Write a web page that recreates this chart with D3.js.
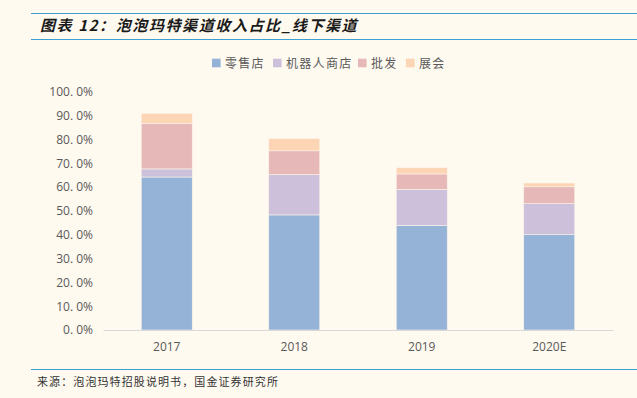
<!DOCTYPE html>
<html>
<head>
<meta charset="utf-8">
<script src="https://cdn.jsdelivr.net/npm/d3@7"></script>
<style>
  html, body { margin: 0; padding: 0; background: #fffaf0; }
  svg { display: block; }
</style>
</head>
<body>
<svg id="chart" width="637" height="398"></svg>
<script>
// data
const years = ["2017", "2018", "2019", "2020E"];
const seriesNames = ["零售店", "机器人商店", "批发", "展会"];
const retail = [64.2, 48.3, 43.9, 40.0];
const robotShop = [3.4, 16.9, 15.1, 13.0];
const wholesale = [19.1, 10.0, 6.5, 7.1];
const fairs = [4.2, 5.1, 2.6, 1.6];
const yTicks = [0, 10, 20, 30, 40, 50, 60, 70, 80, 90, 100];

const colors = ["#95b3d7", "#ccc0da", "#e6b9b8", "#fcd5b5"];
const cjk = "'Noto Sans CJK SC', 'Noto Sans', sans-serif";

const svg = d3.select("#chart");
const width = 637, height = 398;

svg.append("rect").attr("width", width).attr("height", height).attr("fill", "#fffaf0");

// frame lines + title
[13.5, 39.5, 369.5].forEach(yy => {
    svg.append("line").attr("x1", 31).attr("x2", width).attr("y1", yy).attr("y2", yy)
        .attr("stroke", "#3d9fd3").attr("stroke-width", 1.2);
});

svg.append("text")
    .attr("x", 40).attr("y", 31)
    .attr("font-family", cjk).attr("font-size", 15).attr("font-weight", "bold")
    .attr("font-style", "italic").attr("fill", "#1a1a1a")
    .attr("letter-spacing", 1.6)
    .text("图表 12：泡泡玛特渠道收入占比_线下渠道");

svg.append("text")
    .attr("x", 37).attr("y", 386)
    .attr("font-family", cjk).attr("font-size", 11).attr("fill", "#333")
    .attr("letter-spacing", 1.1)
    .text("来源：泡泡玛特招股说明书，国金证券研究所");

// scales
const x = d3.scaleBand().domain(years).range([103, 613]).paddingInner(0.6).paddingOuter(0.3);
const y = d3.scaleLinear().domain([0, 100]).range([330, 91.7]);

// stack
const rows = years.map((yr, i) => ({
    year: yr, s0: retail[i], s1: robotShop[i], s2: wholesale[i], s3: fairs[i]
}));
const stack = d3.stack().keys(["s0", "s1", "s2", "s3"]);
const layers = stack(rows);

// y axis labels
const yAxis = d3.axisLeft(y).tickValues(yTicks).tickSize(0).tickPadding(0)
    .tickFormat(d => d3.format(".1f")(d).replace(".", ". ") + "%");
const yg = svg.append("g").attr("transform", "translate(93,0)").call(yAxis);
yg.select(".domain").remove();
yg.selectAll("text").attr("font-family", "'Open Sans', 'DejaVu Sans', sans-serif")
    .attr("font-size", 12).attr("fill", "#595959");

// bars
svg.append("g").selectAll("g")
    .data(layers)
    .join("g")
    .attr("fill", (d, i) => colors[i])
    .selectAll("rect")
    .data(d => d)
    .join("rect")
    .attr("x", d => x(d.data.year))
    .attr("width", x.bandwidth())
    .attr("y", d => y(d[1]))
    .attr("height", d => y(d[0]) - y(d[1]))
    .attr("stroke", "#fdf3ea")
    .attr("stroke-width", 0.6);

// x axis
const xAxis = d3.axisBottom(x).tickSize(0).tickPadding(12);
const xg = svg.append("g").attr("transform", "translate(0,330)").call(xAxis);
xg.select(".domain").attr("stroke", "#d9d9d9").attr("stroke-width", 1.2);
xg.selectAll("text").attr("font-family", "'Open Sans', 'DejaVu Sans', sans-serif")
    .attr("font-size", 12).attr("fill", "#595959");

// legend
const legendX = [212, 273, 358, 406];
const legend = svg.append("g");
seriesNames.forEach((name, i) => {
    legend.append("rect").attr("x", legendX[i]).attr("y", 58.7)
        .attr("width", 8.6).attr("height", 8.6).attr("fill", colors[i]);
    legend.append("text").attr("x", legendX[i] + 13).attr("y", 67.5)
        .attr("font-family", cjk).attr("font-size", 12).attr("fill", "#595959")
        .attr("letter-spacing", 1.3)
        .text(name);
});
</script>
</body>
</html>
